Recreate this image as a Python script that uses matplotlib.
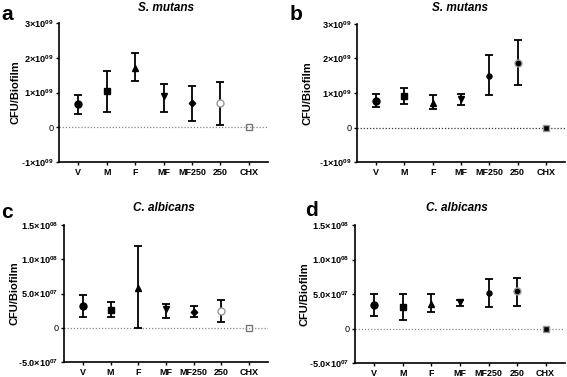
import matplotlib
matplotlib.use("Agg")
import matplotlib.pyplot as plt

plt.rcParams['font.family'] = ['Liberation Sans', 'DejaVu Sans']
plt.rcParams['mathtext.fontset'] = 'custom'
plt.rcParams['mathtext.rm'] = 'Liberation Sans:bold'
plt.rcParams['mathtext.bf'] = 'Liberation Sans:bold'
plt.rcParams['mathtext.it'] = 'Liberation Sans:bold:italic'

groups = ['V', 'M', 'F', 'MF', 'MF250', '250', 'CHX']

# panel a: S. mutans (CFU/biofilm, x1e9)
a_mean = [0.67, 1.03, 1.71, 0.89, 0.69, 0.69, 0.0]
a_top = [0.93, 1.62, 2.15, 1.25, 1.18, 1.31, 0.0]
a_bot = [0.39, 0.44, 1.32, 0.44, 0.19, 0.07, 0.0]

# panel b: S. mutans (x1e9)
b_mean = [0.78, 0.91, 0.72, 0.84, 1.50, 1.87, 0.0]
b_top = [0.96, 1.14, 0.94, 0.98, 2.09, 2.53, 0.0]
b_bot = [0.59, 0.68, 0.54, 0.65, 0.93, 1.22, 0.0]

# panel c: C. albicans (x1e7)
c_mean = [3.16, 2.64, 5.80, 2.73, 2.35, 2.40, 0.0]
c_top = [4.75, 3.69, 11.9, 3.50, 3.12, 3.98, 0.0]
c_bot = [1.53, 1.58, 0.0, 1.49, 1.58, 0.77, 0.0]

# panel d: C. albicans (x1e7)
d_mean = [3.41, 3.18, 3.60, 3.79, 5.21, 5.40, 0.0]
d_top = [5.07, 5.02, 4.93, 4.12, 7.20, 7.39, 0.0]
d_bot = [1.75, 1.28, 2.46, 3.32, 3.18, 3.32, 0.0]

smut_ticks = [-1e9, 0, 1e9, 2e9, 3e9]
smut_labels = [r'-$1{\times}10^{09}$', '0', r'$1{\times}10^{09}$',
               r'$2{\times}10^{09}$', r'$3{\times}10^{09}$']
calb_ticks = [-5e7, 0, 5e7, 1e8, 1.5e8]
calb_labels = [r'-$5.0{\times}10^{07}$', '0', r'$5.0{\times}10^{07}$',
               r'$1.0{\times}10^{08}$', r'$1.5{\times}10^{08}$']

# marker styles: (marker, size, face, edge)
open_style = [('o', 5, 'black', 'black'), ('s', 5, 'black', 'black'),
              ('^', 4.6, 'black', 'black'), ('v', 4.6, 'black', 'black'),
              ('D', 3.3, 'black', 'black'), ('o', 5, 'white', '#999999'),
              ('s', 5, 'none', '#777777')]
filled_style = [('o', 5, 'black', 'black'), ('s', 5, 'black', 'black'),
                ('^', 4.6, 'black', 'black'), ('v', 4.6, 'black', 'black'),
                ('o', 3.6, 'black', 'black'), ('o', 5, 'black', '#999999'),
                ('s', 5, 'black', '#999999')]

fig = plt.figure(figsize=(5.67, 3.77), dpi=100)
W, H = 567.0, 377.0


def make_axes(left, right, top, bottom):
    return fig.add_axes([left / W, 1 - bottom / H, (right - left) / W, (bottom - top) / H])


def panel(ax, mean, top, bot, scale, ticks, labels, ylim, styles, zcolor,
          title, letter, letter_xy, title_x, ylab_x):
    x = list(range(len(groups)))
    ax.axhline(0, color=zcolor, lw=0.9, ls=(0, (1, 1.5)), zorder=1)
    for i in x:
        m = mean[i] * scale
        lo = (mean[i] - bot[i]) * scale
        hi = (top[i] - mean[i]) * scale
        mk, ms, fc, ec = styles[i]
        if hi > 0 or lo > 0:
            ax.errorbar(i, m, yerr=[[lo], [hi]], fmt='none', ecolor='black',
                        elinewidth=1.3, capsize=2.6, capthick=1.3, zorder=2)
        ax.plot(i, m, marker=mk, ms=ms, mfc=fc, mec=ec, mew=1.0,
                ls='none', zorder=3)
    ax.set_xlim(-0.68, 6.68)
    ax.set_ylim(*ylim)
    ax.set_yticks(ticks)
    ax.set_yticklabels(labels)
    ax.set_xticks(x)
    ax.set_xticklabels(groups, fontweight='bold')
    ax.tick_params(axis='both', labelsize=6.6, length=2.5, width=1.0, direction='out', pad=1.5)
    ax.tick_params(axis='x', labelsize=6.5)
    for s in ['top', 'right']:
        ax.spines[s].set_visible(False)
    for s in ['left', 'bottom']:
        ax.spines[s].set_linewidth(1.2)
    ax.set_ylabel('CFU/Biofilm', fontsize=8, fontweight='bold')
    ax.yaxis.set_label_coords(ylab_x, 0.5)
    fig.text(title_x / W, 1 - title[1] / H, title[0], fontsize=8.5, fontweight='bold',
             fontstyle='italic', ha='center', va='center')
    fig.text(letter_xy[0] / W, 1 - letter_xy[1] / H, letter, fontsize=15,
             fontweight='bold', ha='left', va='center')


ax_a = make_axes(59, 268, 23, 162)
panel(ax_a, a_mean, a_top, a_bot, 1e9, smut_ticks, smut_labels, (-1e9, 3e9),
      open_style, '#888888', ('S. mutans', 8), 'a', (1, 15), 166, -0.186)

ax_b = make_axes(357, 565, 24, 162)
panel(ax_b, b_mean, b_top, b_bot, 1e9, smut_ticks, smut_labels, (-1e9, 3e9),
      filled_style, '#333333', ('S. mutans', 8), 'b', (290, 15), 460, -0.216)

ax_c = make_axes(64, 268, 225, 362)
panel(ax_c, c_mean, c_top, c_bot, 1e7, calb_ticks, calb_labels, (-5e7, 1.5e8),
      open_style, '#888888', ('C. albicans', 208), 'c', (1, 213), 164, -0.22)

ax_d = make_axes(355, 565, 225, 363)
panel(ax_d, d_mean, d_top, d_bot, 1e7, calb_ticks, calb_labels, (-5e7, 1.5e8),
      filled_style, '#888888', ('C. albicans', 208), 'd', (305, 210), 457, -0.215)

fig.savefig('out.png', dpi=100)
